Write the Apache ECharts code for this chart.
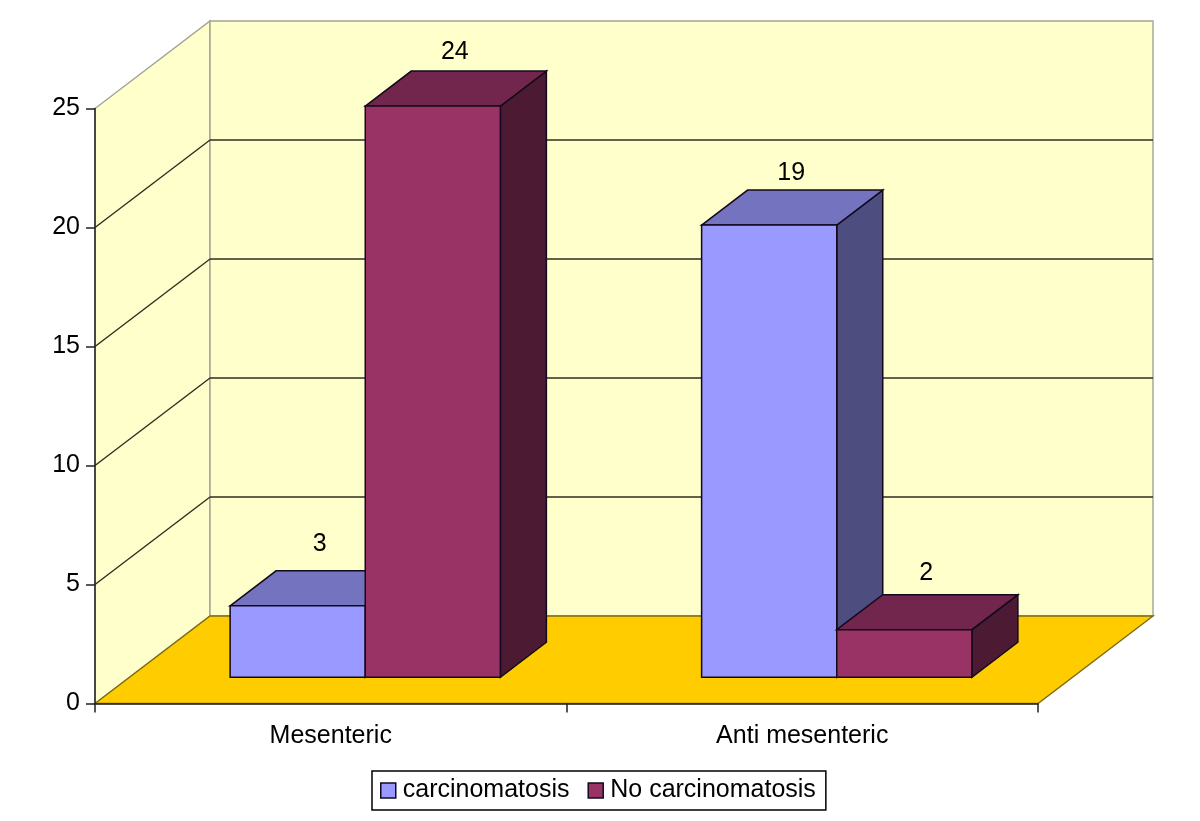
<!DOCTYPE html>
<html>
<head>
<meta charset="utf-8">
<title>Chart</title>
<script src="https://cdn.jsdelivr.net/npm/echarts@6/dist/echarts.min.js"></script>
<style>
  html, body { margin: 0; padding: 0; background: #fff; }
  #chart { width: 1200px; height: 821px; }
</style>
</head>
<body>
<div id="chart"></div>
<script>
const categories = ['Mesenteric', 'Anti mesenteric'];
const carcinomatosis = [3, 19];
const noCarcinomatosis = [24, 2];
const yTicks = [0, 5, 10, 15, 20, 25];

// fake 3D: how far the back wall sits from the axes, in px
const DEPTH_X = 115;
const DEPTH_Y = 87.5;
// bars float 30% into the depth and take 40% of it
const BAR_FRONT = 0.3;
const BAR_DEPTH = 0.4;
const GAP_PART = 0.2134;
const BAR_PART = 0.2866;
const FONT = '"Liberation Sans", Arial, sans-serif';
const FONT_SIZE = 25;
const EDGE = '#120a1c';
// label lift above each bar's front top edge, px (by series, then category)
const LABEL_LIFT = [[62, 52], [54, 57]];

const chart = echarts.init(document.getElementById('chart'));

function poly(points, fill, stroke, width) {
  return {
    type: 'polygon',
    shape: { points: points },
    style: { fill: fill, stroke: stroke || EDGE, lineWidth: width || 1.5 }
  };
}

function line(x1, y1, x2, y2, color) {
  return {
    type: 'line',
    shape: { x1: x1, y1: y1, x2: x2, y2: y2 },
    style: { stroke: color, lineWidth: 1.4 }
  };
}

// walls, floor and gridlines, one item per y tick
function renderWalls(params, api) {
  const v = api.value(1);
  const cs = params.coordSys;
  const y = api.coord([0, v])[1];
  const left = cs.x;
  const right = cs.x + cs.width;
  const base = cs.y + cs.height;
  const top = cs.y;
  const children = [];
  if (v === 0) {
    const grey = '#a3a394';
    children.push(poly([[left, base], [left + DEPTH_X, base - DEPTH_Y], [left + DEPTH_X, top - DEPTH_Y], [left, top]], '#ffffcc', grey, 1.4));
    children.push(poly([[left + DEPTH_X, base - DEPTH_Y], [right + DEPTH_X, base - DEPTH_Y], [right + DEPTH_X, top - DEPTH_Y], [left + DEPTH_X, top - DEPTH_Y]], '#ffffcc', grey, 1.4));
    children.push(poly([[left, base], [left + DEPTH_X, base - DEPTH_Y], [right + DEPTH_X, base - DEPTH_Y], [right, base]], '#ffcc00', '#7d6a14', 1.4));
  } else if (v < yTicks[yTicks.length - 1]) {
    children.push(line(left, y, left + DEPTH_X, y - DEPTH_Y, '#2e2e22'));
    children.push(line(left + DEPTH_X, y - DEPTH_Y, right + DEPTH_X, y - DEPTH_Y, '#2e2e22'));
  }
  return { type: 'group', children: children };
}

function makeRenderBar(seriesPos, front, topFace, side) {
  return function (params, api) {
    const cat = api.value(0);
    const val = api.value(1);
    const band = api.size([1, 0])[0];
    const c = api.coord([cat, val]);
    const c0 = api.coord([cat, 0]);
    const shiftX = DEPTH_X * BAR_FRONT;
    const shiftY = DEPTH_Y * BAR_FRONT;
    const dx = DEPTH_X * BAR_DEPTH;
    const dy = DEPTH_Y * BAR_DEPTH;
    const x1 = c[0] - band / 2 + band * (GAP_PART + BAR_PART * seriesPos) + shiftX;
    const x2 = x1 + band * BAR_PART;
    const yTop = c[1] - shiftY;
    const yBot = c0[1] - shiftY;
    return {
      type: 'group',
      children: [
        poly([[x2, yTop], [x2 + dx, yTop - dy], [x2 + dx, yBot - dy], [x2, yBot]], side),
        poly([[x1, yTop], [x1 + dx, yTop - dy], [x2 + dx, yTop - dy], [x2, yTop]], topFace),
        poly([[x1, yTop], [x2, yTop], [x2, yBot], [x1, yBot]], front),
        {
          type: 'text',
          style: {
            x: (x1 + x2) / 2 + 22,
            y: yTop - LABEL_LIFT[seriesPos][cat],
            text: String(val),
            font: FONT_SIZE + 'px ' + FONT,
            fill: '#000',
            align: 'center',
            verticalAlign: 'middle'
          }
        }
      ]
    };
  };
}

const option = {
  animation: false,
  backgroundColor: '#fff',
  textStyle: { fontFamily: FONT },
  legend: {
    data: ['carcinomatosis', 'No carcinomatosis'],
    left: 372,
    top: 771,
    padding: [7, 10, 7, 8],
    icon: 'rect',
    itemWidth: 15,
    itemHeight: 15,
    itemGap: 18,
    borderColor: '#000',
    borderWidth: 1.5,
    itemStyle: { borderColor: EDGE, borderWidth: 1.5 },
    textStyle: { fontSize: FONT_SIZE, color: '#000', fontFamily: FONT, padding: [0, 0, 0, 2] }
  },
  grid: { left: 95, right: 162, top: 108.5, bottom: 117.5 },
  xAxis: {
    type: 'category',
    data: categories,
    z: 5,
    axisLine: { lineStyle: { color: '#222', width: 1.5 } },
    axisTick: { show: true, length: 9, alignWithLabel: false, lineStyle: { color: '#222', width: 1.5 } },
    axisLabel: { color: '#000', fontSize: FONT_SIZE, margin: 20, fontFamily: FONT },
    splitLine: { show: false }
  },
  yAxis: {
    type: 'value',
    min: 0,
    max: 25,
    interval: 5,
    z: 5,
    axisLine: { show: true, lineStyle: { color: '#222', width: 1.5 } },
    axisTick: { show: true, length: 9, lineStyle: { color: '#222', width: 1.5 } },
    axisLabel: { color: '#000', fontSize: FONT_SIZE, margin: 15, fontFamily: FONT, padding: [3, 0, 0, 0] },
    splitLine: { show: false }
  },
  series: [
    {
      name: 'walls',
      type: 'custom',
      silent: true,
      z: 1,
      clip: false,
      renderItem: renderWalls,
      encode: { x: 0, y: 1 },
      data: yTicks.map((v) => [0, v])
    },
    {
      name: 'carcinomatosis',
      type: 'custom',
      z: 2,
      clip: false,
      itemStyle: { color: '#9999ff' },
      renderItem: makeRenderBar(0, '#9999ff', '#7373bf', '#4d4d80'),
      encode: { x: 0, y: 1 },
      data: carcinomatosis.map((v, i) => [i, v])
    },
    {
      name: 'No carcinomatosis',
      type: 'custom',
      z: 3,
      clip: false,
      itemStyle: { color: '#993366' },
      renderItem: makeRenderBar(1, '#993366', '#73264d', '#4d1a33'),
      encode: { x: 0, y: 1 },
      data: noCarcinomatosis.map((v, i) => [i, v])
    }
  ]
};

chart.setOption(option);
</script>
</body>
</html>
